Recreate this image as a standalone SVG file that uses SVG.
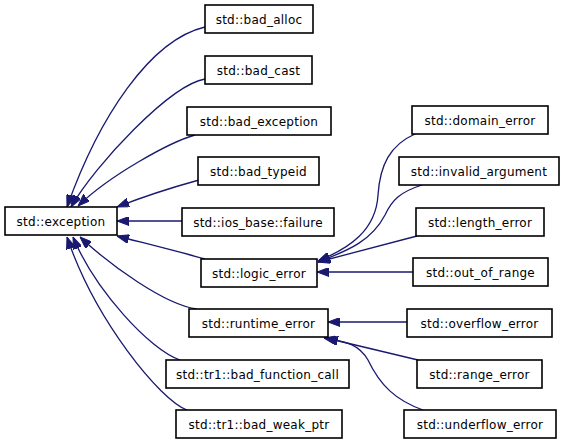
<svg xmlns="http://www.w3.org/2000/svg" width="565" height="442" viewBox="0 0 565 442">
<style>
.n rect{fill:#fff;stroke:#000;stroke-width:1.6}
.n text{font-family:"DejaVu Sans",sans-serif;font-size:12px;letter-spacing:0.25px;text-anchor:middle;fill:#000}
.e path{fill:none;stroke:#191970;stroke-width:1.3;marker-end:url(#ah)}
</style>
<defs>
<marker id="ah" markerUnits="userSpaceOnUse" markerWidth="12" markerHeight="9" refX="12" refY="4.5" orient="auto">
<path d="M0,0 L12,4.5 L0,9 z" fill="#191970" stroke="#191970" stroke-width="1"/>
</marker>
</defs>
<rect width="565" height="442" fill="#fff"/>
<g id="edges" class="e">
<path d="M205,27 C150,40 99,117 67,207"/>
<path d="M205,79 C170,85 95,165 71,207"/>
<path d="M195,135 C170,142 110,175 78,206"/>
<path d="M199,180 C170,188 140,198 117,207"/>
<path d="M182,221 L117,221"/>
<path d="M205,259 C180,252 140,242 117,236"/>
<path d="M197,309 C165,305 110,265 80,237"/>
<path d="M180,360 C150,350 95,290 73,237"/>
<path d="M187,410 C160,400 95,320 67,237"/>
<path d="M415,134 C390,145 380,165 378,195 C376,230 350,248 318,261"/>
<path d="M422,185 C400,192 392,200 385,215 C372,240 350,250 318,262"/>
<path d="M417,236 L318,262"/>
<path d="M413,272 L317,272"/>
<path d="M407,322 L328,322"/>
<path d="M418,360 L326,338"/>
<path d="M423,410 C395,400 380,385 368,360 C358,343 345,342 324,338"/>
</g>
<g id="exception" class="n"><rect x="5" y="207" width="112" height="28"/><text x="61" y="226">std::exception</text></g>
<g id="bad_alloc" class="n"><rect x="205" y="5" width="108" height="28"/><text x="259" y="24">std::bad_alloc</text></g>
<g id="bad_cast" class="n"><rect x="205" y="56" width="107" height="28"/><text x="258.5" y="75">std::bad_cast</text></g>
<g id="bad_exception" class="n"><rect x="187" y="107" width="144" height="28"/><text x="259" y="126">std::bad_exception</text></g>
<g id="bad_typeid" class="n"><rect x="198" y="157" width="121" height="28"/><text x="258.5" y="176">std::bad_typeid</text></g>
<g id="ios_failure" class="n"><rect x="182" y="208" width="152" height="28"/><text x="258" y="227">std::ios_base::failure</text></g>
<g id="logic_error" class="n"><rect x="201" y="259" width="116" height="28"/><text x="259" y="278">std::logic_error</text></g>
<g id="runtime_error" class="n"><rect x="189" y="309" width="139" height="28"/><text x="258.5" y="328">std::runtime_error</text></g>
<g id="bad_function_call" class="n"><rect x="166" y="360" width="183" height="28"/><text x="257.5" y="379">std::tr1::bad_function_call</text></g>
<g id="bad_weak_ptr" class="n"><rect x="176" y="410" width="166" height="28"/><text x="259" y="429">std::tr1::bad_weak_ptr</text></g>
<g id="domain_error" class="n"><rect x="412" y="106" width="136" height="28"/><text x="480" y="125">std::domain_error</text></g>
<g id="invalid_argument" class="n"><rect x="399" y="157" width="160" height="28"/><text x="479" y="176">std::invalid_argument</text></g>
<g id="length_error" class="n"><rect x="416" y="208" width="128" height="28"/><text x="480" y="227">std::length_error</text></g>
<g id="out_of_range" class="n"><rect x="413" y="258" width="135" height="28"/><text x="480.5" y="277">std::out_of_range</text></g>
<g id="overflow_error" class="n"><rect x="407" y="309" width="145" height="28"/><text x="479.5" y="328">std::overflow_error</text></g>
<g id="range_error" class="n"><rect x="417" y="360" width="125" height="28"/><text x="479.5" y="379">std::range_error</text></g>
<g id="underflow_error" class="n"><rect x="404" y="410" width="152" height="28"/><text x="480" y="429">std::underflow_error</text></g>
</svg>
